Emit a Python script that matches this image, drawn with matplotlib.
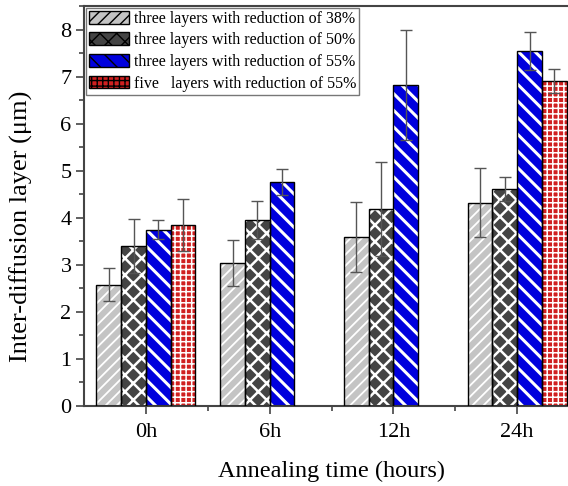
import numpy as np
import matplotlib
matplotlib.use('Agg')
import matplotlib.pyplot as plt
from matplotlib.ticker import MultipleLocator, FixedLocator
from matplotlib.patches import Patch

#=== Data ===
times = ["0h", "6h", "12h", "24h"]
labels = ["three layers with reduction of 38%",
          "three layers with reduction of 50%",
          "three layers with reduction of 55%",
          "five   layers with reduction of 55%"]

r38 = [2.58, 3.04, 3.59, 4.32]
r38_err = [0.35, 0.49, 0.75, 0.73]
r50 = [3.40, 3.95, 4.18, 4.61]
r50_err = [0.58, 0.41, 1.00, 0.25]
r55 = [3.75, 4.76, 6.83, 7.54]
r55_err = [0.20, 0.27, 1.17, 0.41]
five55 = [3.84, np.nan, np.nan, 6.91]
five55_err = [0.55, np.nan, np.nan, 0.26]

#=== Style ===
plt.rcParams['font.family'] = ['Liberation Serif', 'DejaVu Serif']
plt.rcParams['hatch.color'] = 'white'

series = [r38, r50, r55, five55]
errs = [r38_err, r50_err, r55_err, five55_err]
faces = ['#c4c4c4', '#444444', '#0000dd', '#d02020']
hatches = ['///', 'xx', '\\\\', '+++']
hlw = [1.3, 1.8, 2.2, 1.1]

fig = plt.figure(figsize=(5.68, 4.86), dpi=100)
ax = fig.add_axes([84/568, 80/486, (579-84)/568, 400/486])

x = np.arange(1, len(times) + 1)
w = 0.2
offsets = [-0.3, -0.1, 0.1, 0.3]

for i in range(4):
    with plt.rc_context({'hatch.linewidth': hlw[i]}):
        ax.bar(x + offsets[i], series[i], w, color=faces[i], hatch=hatches[i],
               edgecolor='white', linewidth=0, zorder=2)
    ax.bar(x + offsets[i], series[i], w, facecolor='none', edgecolor='black',
           linewidth=1.0, zorder=3)
    ax.errorbar(x + offsets[i], series[i], yerr=errs[i], fmt='none', ecolor='#555555',
                elinewidth=1.0, capsize=4, capthick=1.0, zorder=4)

#=== Legend ===
leg_handles = []
for i in range(4):
    with plt.rc_context({'hatch.linewidth': hlw[i]}):
        p = Patch(facecolor=faces[i], hatch=hatches[i], edgecolor='black', linewidth=1.0)
    leg_handles.append(p)

leg = ax.legend(leg_handles, labels, loc='upper left', fontsize=11.5,
                handlelength=2.5, handleheight=0.85, labelspacing=0.35,
                handletextpad=0.3, borderaxespad=0.1, borderpad=0.2,
                fancybox=False, framealpha=1, edgecolor='#777777')
leg.get_frame().set_linewidth(1.0)

#=== Axes ===
ax.set_xlim(0.5, 4.5)
ax.set_ylim(0, 8.5)
ax.set_xticks(x)
ax.set_xticklabels(times)
ax.xaxis.set_minor_locator(FixedLocator([1.5, 2.5, 3.5]))
ax.yaxis.set_major_locator(MultipleLocator(1))
ax.yaxis.set_minor_locator(MultipleLocator(0.5))

ax.tick_params(axis='both', which='major', direction='out', length=6, width=1.2,
               labelsize=16, color='#444444', pad=3)
ax.tick_params(axis='both', which='minor', direction='out', length=3.5, width=1.2,
               color='#444444')
ax.tick_params(axis='x', which='major', pad=6)

for s in ['left', 'bottom', 'top']:
    ax.spines[s].set_color('#444444')
    ax.spines[s].set_linewidth(1.5)
ax.spines['right'].set_visible(False)

ax.set_xlabel("Annealing time (hours)", fontsize=17.5, labelpad=14)
ax.set_ylabel("Inter-diffusion layer (μm)", fontsize=19)
ax.yaxis.set_label_coords(-0.103, 0.45)

fig.savefig('out.png', dpi=100)
